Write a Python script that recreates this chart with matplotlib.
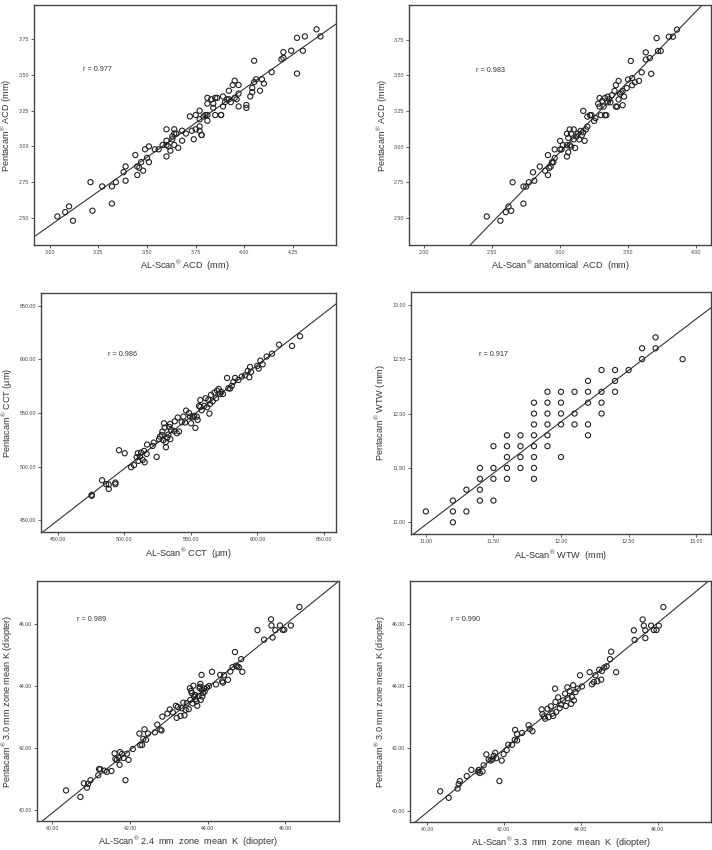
import numpy as np
import matplotlib
matplotlib.use("Agg")
import matplotlib.pyplot as plt

plt.rcParams['font.family'] = ['Liberation Sans', 'DejaVu Sans']
plt.rcParams['mathtext.fontset'] = 'custom'
plt.rcParams['mathtext.rm'] = 'Liberation Sans'
plt.rcParams['mathtext.it'] = 'Liberation Sans:italic'

# ---------------- Panel A: AL-Scan ACD vs Pentacam ACD ----------------
acd_x = [3.04, 3.08, 3.10, 3.12, 3.21, 3.22, 3.27, 3.32, 3.34, 3.32, 3.38, 3.39, 3.39, 3.44, 3.45,
         3.45, 3.46, 3.47, 3.48, 3.49, 3.50, 3.51, 3.51, 3.54, 3.56, 3.58, 3.60, 3.60, 3.60, 3.60,
         3.61, 3.62, 3.63, 3.63, 3.64, 3.64, 3.65, 3.64, 3.66, 3.68, 3.68, 3.70, 3.72, 3.73, 3.74,
         3.75, 3.75, 3.77, 3.77, 3.77, 3.77, 3.78, 3.78, 3.79, 3.80, 3.81, 3.81, 3.81, 3.81, 3.83,
         3.84, 3.84, 3.85, 3.85, 3.86, 3.88, 3.88, 3.89, 3.89, 3.90, 3.91, 3.92, 3.92, 3.93, 3.94,
         3.95, 3.95, 3.96, 3.97, 3.97, 3.97, 4.01, 4.01, 4.03, 4.04, 4.05, 4.04, 4.05, 4.06, 4.08,
         4.09, 4.10, 4.14, 4.19, 4.20, 4.20, 4.24, 4.27, 4.27, 4.30, 4.31, 4.37, 4.39]
acd_y = [2.51, 2.54, 2.58, 2.48, 2.75, 2.55, 2.72, 2.72, 2.75, 2.60, 2.82, 2.86, 2.76, 2.94, 2.80,
         2.86, 2.85, 2.89, 2.83, 2.98, 2.92, 3.00, 2.89, 2.98, 2.98, 3.01, 3.12, 3.04, 2.93, 3.01,
         3.00, 2.97, 3.05, 3.07, 3.12, 3.09, 3.09, 3.01, 2.99, 3.04, 3.11, 3.09, 3.21, 3.11, 3.05,
         3.22, 3.12, 3.25, 3.14, 3.11, 3.19, 3.08, 3.08, 3.21, 3.22, 3.18, 3.22, 3.34, 3.30, 3.33,
         3.27, 3.30, 3.22, 3.34, 3.34, 3.22, 3.22, 3.35, 3.28, 3.31, 3.33, 3.39, 3.33, 3.31, 3.43,
         3.34, 3.46, 3.33, 3.28, 3.43, 3.37, 3.29, 3.27, 3.35, 3.38, 3.60, 3.41, 3.45, 3.47, 3.39,
         3.47, 3.44, 3.52, 3.61, 3.66, 3.62, 3.67, 3.76, 3.51, 3.67, 3.77, 3.82, 3.77]

# ---------------- Panel B: AL-Scan anatomical ACD vs Pentacam ACD ----------------
aacd_x = [2.46, 2.56, 2.60, 2.62, 2.64, 2.65, 2.73, 2.73, 2.75, 2.77, 2.80, 2.81, 2.85, 2.89, 2.91,
          2.91, 2.92, 2.93, 2.94, 2.95, 2.96, 2.96, 3.00, 3.00, 3.01, 3.02, 3.05, 3.05, 3.05, 3.06,
          3.06, 3.07, 3.07, 3.08, 3.08, 3.10, 3.10, 3.11, 3.12, 3.13, 3.14, 3.15, 3.16, 3.17, 3.17,
          3.18, 3.19, 3.20, 3.20, 3.22, 3.23, 3.25, 3.26, 3.28, 3.29, 3.29, 3.30, 3.31, 3.32, 3.33,
          3.33, 3.34, 3.35, 3.35, 3.36, 3.37, 3.38, 3.40, 3.41, 3.41, 3.42, 3.43, 3.43, 3.44, 3.45,
          3.46, 3.46, 3.47, 3.49, 3.50, 3.52, 3.53, 3.53, 3.55, 3.58, 3.60, 3.63, 3.63, 3.67, 3.66,
          3.71, 3.72, 3.74, 3.80, 3.83, 3.86]
aacd_y = [2.51, 2.48, 2.54, 2.58, 2.55, 2.75, 2.60, 2.72, 2.72, 2.75, 2.82, 2.76, 2.86, 2.83, 2.94,
          2.80, 2.85, 2.86, 2.89, 2.89, 2.98, 2.92, 3.04, 2.98, 2.98, 3.01, 3.09, 2.93, 3.01, 3.06,
          2.96, 3.12, 3.01, 3.00, 3.09, 3.12, 3.05, 2.99, 3.07, 3.09, 3.05, 3.11, 3.08, 3.25, 3.10,
          3.04, 3.12, 3.21, 3.14, 3.22, 3.22, 3.18, 3.20, 3.30, 3.34, 3.28, 3.22, 3.32, 3.28, 3.22,
          3.34, 3.22, 3.31, 3.35, 3.33, 3.31, 3.36, 3.39, 3.28, 3.43, 3.28, 3.46, 3.33, 3.37, 3.38,
          3.29, 3.39, 3.35, 3.41, 3.47, 3.60, 3.43, 3.48, 3.45, 3.46, 3.52, 3.66, 3.61, 3.51, 3.62,
          3.76, 3.67, 3.67, 3.77, 3.77, 3.82]

# ---------------- Panel C: CCT ----------------
cct_x = [475.5, 475.5, 483.3, 486.3, 488.3, 488.3, 493.3, 493.3, 496.0, 500.3, 505.1, 507.3, 509.3,
         510.1, 510.6, 511.8, 512.6, 513.8, 514.8, 515.3, 516.8, 517.1, 521.3, 522.1, 524.3, 526.1,
         526.8, 528.1, 528.6, 529.3, 529.8, 530.3, 531.1, 531.3, 532.3, 533.1, 533.8, 534.4, 534.6,
         535.1, 537.6, 537.9, 539.4, 540.1, 541.1, 543.1, 544.4, 545.6, 546.4, 548.6, 549.4, 550.1,
         551.4, 552.4, 553.4, 554.4, 555.1, 556.1, 557.1, 557.1, 558.1, 560.1, 561.1, 562.1, 563.1,
         563.9, 564.4, 565.1, 566.4, 567.6, 568.9, 569.6, 570.9, 571.9, 572.9, 574.1, 577.2, 578.2,
         579.4, 580.7, 581.9, 583.2, 585.7, 588.2, 590.7, 592.7, 593.9, 594.4, 595.2, 599.9, 600.9,
         602.2, 603.9, 606.9, 610.9, 616.2, 626.0, 632.0]
cct_y = [473.9, 473.0, 487.5, 483.8, 483.5, 479.4, 485.3, 483.8, 515.4, 512.6, 499.6, 501.5, 508.9,
         512.6, 505.5, 509.5, 513.2, 506.4, 514.8, 504.2, 512.0, 520.7, 519.4, 522.5, 509.2, 525.7,
         528.1, 529.7, 532.8, 524.7, 540.5, 536.5, 522.9, 518.2, 527.2, 530.0, 537.1, 539.9, 525.7,
         534.3, 533.4, 542.4, 531.2, 545.8, 532.8, 541.5, 546.7, 541.2, 552.3, 550.1, 546.7, 540.5,
         546.1, 547.4, 536.2, 546.7, 543.6, 556.7, 562.2, 555.7, 552.6, 556.7, 563.8, 555.4, 562.2,
         549.5, 558.5, 566.9, 561.0, 569.1, 563.8, 570.9, 572.5, 567.8, 569.7, 567.8, 582.7, 573.1,
         572.8, 575.3, 579.0, 582.7, 580.8, 584.0, 585.2, 589.2, 583.3, 592.9, 588.3, 593.9, 591.4,
         598.8, 595.4, 602.6, 605.3, 613.7, 612.5, 621.5]

# ---------------- Panel D: WTW ----------------
wtw_x = [11.0, 11.2, 11.2, 11.2, 11.3, 11.3, 11.4, 11.4, 11.4, 11.4, 11.5, 11.5, 11.5, 11.5,
         11.6, 11.6, 11.6, 11.6, 11.6, 11.7, 11.7, 11.7, 11.7, 11.8, 11.8, 11.8, 11.8, 11.8, 11.8,
         11.8, 11.8, 11.9, 11.9, 11.9, 11.9, 11.9, 11.9, 12.0, 12.0, 12.0, 12.0, 12.0, 12.1, 12.1,
         12.1, 12.2, 12.2, 12.2, 12.2, 12.2, 12.3, 12.3, 12.3, 12.3, 12.4, 12.4, 12.4, 12.5, 12.6,
         12.6, 12.7, 12.7, 12.9]
wtw_y = [11.1, 11.2, 11.1, 11.0, 11.3, 11.1, 11.5, 11.4, 11.3, 11.2, 11.7, 11.5, 11.4, 11.2,
         11.8, 11.7, 11.6, 11.5, 11.4, 11.8, 11.7, 11.6, 11.5, 12.1, 12.0, 11.9, 11.8, 11.7, 11.6,
         11.5, 11.4, 12.2, 12.1, 12.0, 11.9, 11.8, 11.7, 12.2, 12.1, 12.0, 11.9, 11.6, 12.2, 12.0,
         11.9, 12.3, 12.2, 12.1, 11.9, 11.8, 12.4, 12.2, 12.1, 12.0, 12.4, 12.3, 12.2, 12.4, 12.6,
         12.5, 12.7, 12.6, 12.5]

# ---------------- Panel E: 2.4 mm zone mean K ----------------
k24_x = [40.35, 40.72, 40.81, 40.89, 40.92, 40.98, 41.18, 41.20, 41.23, 41.34, 41.40, 41.52, 41.60,
         41.62, 41.66, 41.72, 41.73, 41.74, 41.79, 41.83, 41.88, 41.92, 41.96, 42.07, 42.24, 42.26,
         42.31, 42.34, 42.37, 42.41, 42.46, 42.64, 42.70, 42.78, 42.81, 42.83, 42.96, 43.02, 43.10,
         43.18, 43.20, 43.23, 43.30, 43.33, 43.37, 43.40, 43.43, 43.46, 43.51, 43.54, 43.55, 43.59,
         43.61, 43.63, 43.65, 43.68, 43.71, 43.73, 43.76, 43.79, 43.81, 43.82, 43.84, 43.85, 43.88,
         43.92, 43.98, 44.03, 44.11, 44.21, 44.32, 44.37, 44.39, 44.42, 44.52, 44.58, 44.64, 44.70,
         44.73, 44.76, 44.80, 44.86, 44.89, 45.28, 45.45, 45.63, 45.64, 45.67, 45.74, 45.86, 45.93,
         45.97, 46.14, 46.36, 43.57, 43.67, 43.80, 43.86, 43.90]
k24_y = [40.62, 40.41, 40.85, 40.71, 40.83, 40.95, 41.11, 41.31, 41.31, 41.26, 41.22, 41.25, 41.82,
         41.64, 41.61, 41.67, 41.45, 41.86, 41.80, 41.67, 40.95, 41.81, 41.61, 41.96, 42.46, 42.09,
         42.09, 42.29, 42.60, 42.26, 42.46, 42.50, 42.75, 42.59, 42.56, 43.01, 43.11, 43.24, 43.15,
         43.36, 42.97, 43.32, 43.03, 43.28, 43.46, 43.05, 43.23, 43.44, 43.25, 43.93, 43.55, 43.77,
         43.44, 44.01, 43.66, 43.57, 43.50, 43.36, 43.68, 43.93, 44.07, 43.55, 44.36, 43.87, 43.77,
         43.82, 43.95, 44.00, 44.46, 44.05, 44.36, 44.15, 44.11, 44.35, 44.20, 44.47, 44.61, 45.10,
         44.66, 44.63, 44.61, 44.87, 44.46, 45.81, 45.50, 46.16, 45.96, 45.57, 45.81, 45.96, 45.82,
         45.82, 45.96, 46.56, 43.84, 43.71, 43.98, 43.66, 43.92]

# ---------------- Panel F: 3.3 mm zone mean K ----------------
k33_x = [40.34, 40.56, 40.79, 40.82, 40.85, 41.03, 41.15, 41.32, 41.34, 41.37, 41.44, 41.47, 41.54,
         41.60, 41.65, 41.70, 41.73, 41.77, 41.80, 41.88, 41.94, 41.99, 42.07, 42.11, 42.21, 42.28,
         42.29, 42.34, 42.34, 42.47, 42.64, 42.67, 42.74, 42.98, 43.00, 43.04, 43.07, 43.13, 43.16,
         43.22, 43.26, 43.28, 43.33, 43.34, 43.36, 43.41, 43.45, 43.48, 43.54, 43.59, 43.61, 43.65,
         43.66, 43.71, 43.75, 43.77, 43.80, 43.82, 43.86, 43.92, 43.98, 44.03, 44.23, 44.29, 44.34,
         44.38, 44.43, 44.48, 44.53, 44.55, 44.61, 44.67, 44.76, 44.79, 44.92, 45.38, 45.40, 45.61,
         45.64, 45.68, 45.68, 45.83, 45.90, 45.97, 46.03, 46.15]
k33_y = [40.62, 40.41, 40.71, 40.85, 40.95, 41.11, 41.31, 41.25, 41.31, 41.21, 41.26, 41.46, 41.81,
         41.64, 41.61, 41.65, 41.76, 41.86, 41.69, 40.95, 41.61, 41.82, 41.95, 42.12, 42.12, 42.28,
         42.60, 42.47, 42.26, 42.50, 42.75, 42.63, 42.56, 43.26, 43.11, 43.03, 42.96, 43.28, 43.01,
         43.36, 43.13, 43.05, 43.93, 43.50, 43.18, 43.65, 43.30, 43.42, 43.55, 43.77, 43.37, 43.97,
         43.62, 43.85, 43.44, 43.66, 44.04, 43.55, 43.82, 43.93, 44.36, 44.00, 44.46, 44.07, 44.14,
         44.36, 44.17, 44.54, 44.22, 44.50, 44.61, 44.65, 44.88, 45.12, 44.46, 45.81, 45.50, 46.16,
         45.96, 45.81, 45.56, 45.96, 45.82, 45.82, 45.96, 46.56]

# regression line coefficients (slope, intercept) and r values
fit_slope = [0.961, 0.985, 0.964, 0.945, 1.017, 1.017]
fit_icpt = [-0.439, 0.007, 16.3, 0.584, -0.786, -0.735]
r_values = ["0.977", "0.983", "0.986", "0.917", "0.989", "0.990"]

R = r'$^{\mathrm{®}}$'
x_labels = ["AL-Scan" + R + " ACD  (mm)",
            "AL-Scan" + R + " anatomical  ACD  (mm)",
            "AL-Scan" + R + " CCT  (μm)",
            "AL-Scan" + R + " WTW  (mm)",
            "AL-Scan" + R + " 2.4  mm  zone  mean  K  (diopter)",
            "AL-Scan" + R + " 3.3  mm  zone  mean  K  (diopter)"]
y_labels = ["Pentacam" + R + " ACD (mm)",
            "Pentacam" + R + " ACD (mm)",
            "Pentacam" + R + " CCT (μm)",
            "Pentacam" + R + " WTW (mm)",
            "Pentacam" + R + " 3.0 mm zone mean K (diopter)",
            "Pentacam" + R + " 3.0 mm zone mean K (diopter)"]

x_ticks = [[3.00, 3.25, 3.50, 3.75, 4.00, 4.25],
           [2.00, 2.50, 3.00, 3.50, 4.00],
           [450, 500, 550, 600, 650],
           [11.00, 11.50, 12.00, 12.50, 13.00],
           [40, 42, 44, 46],
           [40, 42, 44, 46]]
y_ticks = [[2.50, 2.75, 3.00, 3.25, 3.50, 3.75],
           [2.50, 2.75, 3.00, 3.25, 3.50, 3.75],
           [450, 500, 550, 600, 650],
           [11.00, 11.50, 12.00, 12.50, 13.00],
           [40, 42, 44, 46],
           [40, 42, 44, 46]]
x_lims = [(2.92, 4.47), (1.89, 4.11), (437.2, 659), (10.89, 13.11), (39.61, 47.38), (39.56, 47.39)]
y_lims = [(2.31, 3.99), (2.31, 3.99), (439, 661.5), (10.89, 13.12), (39.63, 47.40), (39.63, 47.40)]

xs = [acd_x, aacd_x, cct_x, wtw_x, k24_x, k33_x]
ys = [acd_y, aacd_y, cct_y, wtw_y, k24_y, k33_y]

W, H = 712, 850
rects_px = [(34, 5, 336, 245), (409.3, 5.3, 711, 245),
            (40.7, 293.3, 336, 532.3), (411, 291.7, 711, 534.3),
            (37.3, 581, 339, 821), (410.3, 581, 711, 822)]
r_pos = [(0.162, 0.73), (0.22, 0.73), (0.227, 0.746), (0.227, 0.743), (0.13, 0.84), (0.135, 0.84)]

fig = plt.figure(figsize=(W / 100, H / 100), dpi=100)
for i in range(6):
    l, t, r, b = rects_px[i]
    ax = fig.add_axes([l / W, 1 - b / H, (r - l) / W, (b - t) / H])
    ax.scatter(xs[i], ys[i], s=14, facecolors='none', edgecolors='#222222', linewidths=0.8, zorder=3)
    xl = np.array(x_lims[i])
    ax.plot(xl, fit_slope[i] * xl + fit_icpt[i], color='#333333', lw=0.8, zorder=2)
    ax.set_xlim(*x_lims[i])
    ax.set_ylim(*y_lims[i])
    ax.set_xticks(x_ticks[i])
    ax.set_yticks(y_ticks[i])
    ax.set_xticklabels(["%.2f" % v for v in x_ticks[i]])
    ax.set_yticklabels(["%.2f" % v for v in y_ticks[i]])
    ax.tick_params(labelsize=3.8, length=2, width=0.6, colors='#444444', pad=1.5)
    for sp in ax.spines.values():
        sp.set_linewidth(1.0)
        sp.set_color('#444444')
    ax.set_xlabel(x_labels[i], fontsize=6.6, color='#333333', labelpad=3)
    ax.set_ylabel(y_labels[i], fontsize=6.6, color='#333333', labelpad=3)
    ax.text(r_pos[i][0], r_pos[i][1], "r = " + r_values[i], transform=ax.transAxes,
            fontsize=5.2, color='#333333', va='center', ha='left')

fig.savefig("out.png", dpi=100)
